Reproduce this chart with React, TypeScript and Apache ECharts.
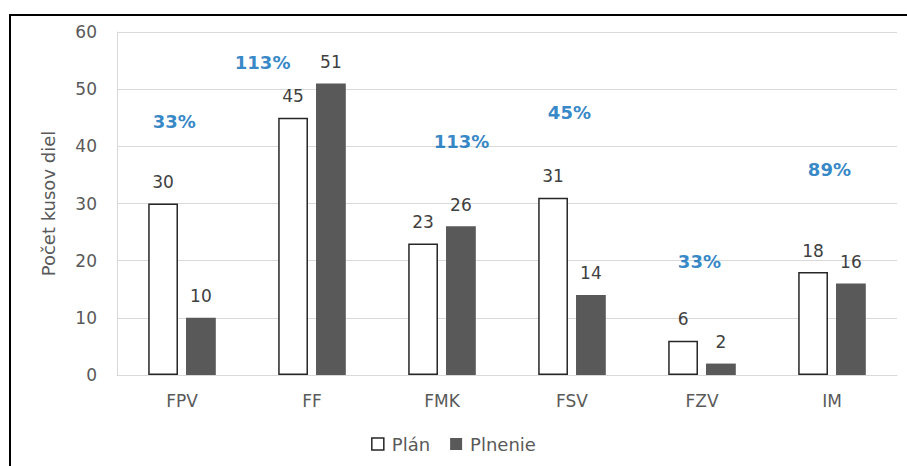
import React, { useEffect, useRef } from "react";
import * as echarts from "echarts";

const categories = ["FPV", "FF", "FMK", "FSV", "FZV", "IM"];
const planValues = [30, 45, 23, 31, 6, 18];
const plnenieValues = [10, 51, 26, 14, 2, 16];
const percentLabels = ["33%", "113%", "113%", "45%", "33%", "89%"];
// annotation anchor positions (category units, value units)
const percentX = [0.44, 1.12, 2.65, 3.48, 4.48, 5.48];
const percentY = [44.3, 54.7, 40.9, 46, 19.8, 36];
const yTicks = { min: 0, max: 60, interval: 10 };

const FONT = "'DejaVu Sans', 'Open Sans', sans-serif";

export default function App() {
  const ref = useRef<HTMLDivElement>(null);
  useEffect(() => {
    const chart = echarts.init(ref.current!, null, { renderer: "svg" });
    chart.setOption({
      animation: false,
      backgroundColor: "#ffffff",
      textStyle: { fontFamily: FONT },
      grid: { left: 117, right: 10, top: 32, bottom: 91, containLabel: false },
      legend: {
        bottom: 8,
        left: "center",
        itemWidth: 12,
        itemHeight: 12,
        itemGap: 20,
        icon: "rect",
        textStyle: { color: "#595959", fontSize: 18, fontFamily: FONT, padding: [0, 0, 0, 3] },
        data: [
          { name: "Plán", itemStyle: { color: "#ffffff", borderColor: "#262626", borderWidth: 1.5 } },
          { name: "Plnenie", itemStyle: { color: "#595959" } },
        ],
      },
      xAxis: [
        {
          type: "category",
          data: categories,
          axisLine: { lineStyle: { color: "#D9D9D9", width: 1 } },
          axisTick: { show: false },
          axisLabel: { color: "#595959", fontSize: 17, margin: 17, fontFamily: FONT },
        },
        {
          type: "value",
          min: 0,
          max: categories.length,
          show: false,
        },
      ],
      yAxis: {
        type: "value",
        min: yTicks.min,
        max: yTicks.max,
        interval: yTicks.interval,
        name: "Počet kusov diel",
        nameLocation: "middle",
        nameGap: 60,
        nameTextStyle: { color: "#595959", fontSize: 18, fontFamily: FONT },
        axisLine: { show: true, lineStyle: { color: "#D9D9D9" } },
        axisTick: { show: false },
        axisLabel: { color: "#595959", fontSize: 17, margin: 20, fontFamily: FONT },
        splitLine: { lineStyle: { color: "#D9D9D9", width: 1 } },
      },
      series: [
        {
          name: "Plán",
          type: "bar",
          xAxisIndex: 0,
          data: planValues,
          barGap: "27%",
          barCategoryGap: "48%",
          itemStyle: { color: "#ffffff", borderColor: "#262626", borderWidth: 1.5 },
          label: { show: true, position: "top", distance: 13, color: "#404040", fontSize: 17, fontFamily: FONT },
        },
        {
          name: "Plnenie",
          type: "bar",
          xAxisIndex: 0,
          data: plnenieValues,
          itemStyle: { color: "#595959" },
          label: { show: true, position: "top", distance: 13, color: "#404040", fontSize: 17, fontFamily: FONT },
        },
        {
          name: "percent",
          type: "scatter",
          xAxisIndex: 1,
          symbolSize: 1,
          itemStyle: { color: "rgba(0,0,0,0)" },
          data: percentX.map((x, i) => ({ value: [x, percentY[i]], label: { formatter: percentLabels[i] } })),
          label: {
            show: true,
            position: "inside",
            color: "#0068B8",
            fontSize: 18,
            fontWeight: "bold",
            fontFamily: FONT,
          },
          silent: true,
        },
      ],
    });
    return () => chart.dispose();
  }, []);
  return (
    <div style={{ position: "fixed", left: 0, top: 0, width: 907, height: 466, background: "#fff" }}>
      <div ref={ref} style={{ position: "absolute", left: 0, top: 0, width: 907, height: 466 }} />
      <div
        style={{
          position: "absolute",
          left: 9,
          top: 14,
          width: 898,
          height: 452,
          borderTop: "2px solid #000",
          borderLeft: "2px solid #000",
          boxSizing: "border-box",
          pointerEvents: "none",
        }}
      />
    </div>
  );
}
